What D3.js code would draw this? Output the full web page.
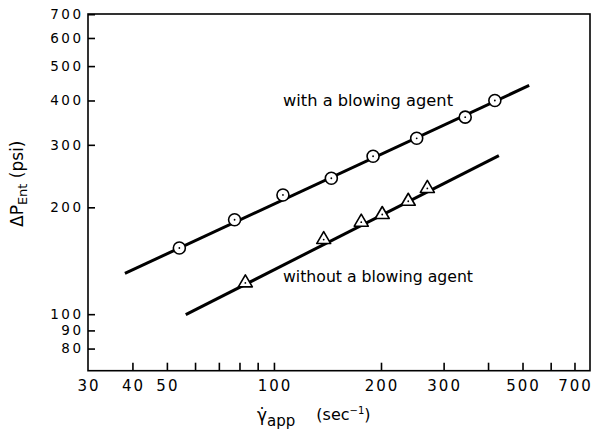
<!DOCTYPE html>
<html><head><meta charset="utf-8">
<script src="https://cdn.jsdelivr.net/npm/d3@7"></script>
<style>
body{margin:0;background:#fff;}
svg text{font-family:"DejaVu Sans",sans-serif;fill:#000;}
</style></head>
<body><svg id="c" width="597" height="436"></svg>
<script>
// Data
const withX = [54.2, 77.5, 106, 145, 190, 252, 345, 418];
const withY = [153.6, 184.5, 216.7, 241.5, 278.6, 313, 359, 400];
const withoutX = [83.1, 138, 176, 201.6, 238.6, 270];
const withoutY = [122.9, 162.8, 182.2, 191.5, 208.7, 226.8];
const withLineX = [38.1, 522];
const withLineY = [130.3, 441];
const withoutLineX = [56.5, 429];
const withoutLineY = [99.7, 279.7];
const xTicks = [40, 50, 60, 70, 80, 90, 100, 200, 300, 400, 500, 600, 700];
const xTickLabels = [30, 40, 50, 100, 200, 300, 500, 700];
const yTicks = [80, 90, 100, 200, 300, 400, 500, 600, 700];
const yTickLabels = [80, 90, 100, 200, 300, 400, 500, 600, 700];

const svg = d3.select("#c");
const L = 88, R = 590, T = 14, B = 370.7;
const x = d3.scaleLog().domain([30, 774]).range([L, R]);
const y = d3.scaleLog().domain([69.3, 701]).range([B, T]);

// frame
svg.append("rect").attr("x", L).attr("y", T).attr("width", R - L).attr("height", B - T)
  .attr("fill", "none").attr("stroke", "#000").attr("stroke-width", 1.6);

// x axis ticks (inward)
const xAxis = d3.axisBottom(x).tickValues(xTicks).tickSize(-8).tickFormat("");
const gx = svg.append("g").attr("transform", `translate(0,${B})`).call(xAxis);
gx.select(".domain").remove();
gx.selectAll("line").attr("stroke", "#000").attr("stroke-width", 1.6);
svg.append("g").selectAll("text").data(xTickLabels).join("text")
  .attr("x", d => x(d)).attr("y", 391)
  .attr("text-anchor", "middle").attr("font-size", 15).attr("letter-spacing", 2)
  .attr("dx", 1)
  .text(d => d);

// y axis ticks (inward)
const yAxis = d3.axisLeft(y).tickValues(yTicks).tickSize(-7).tickFormat("");
const gy = svg.append("g").attr("transform", `translate(${L},0)`).call(yAxis);
gy.select(".domain").remove();
gy.selectAll("line").attr("stroke", "#000").attr("stroke-width", 1.6);
svg.append("g").selectAll("text").data(yTickLabels).join("text")
  .attr("x", 83.5).attr("y", d => y(d)).attr("dy", "0.36em")
  .attr("text-anchor", "end").attr("font-size", 13.5).attr("letter-spacing", 2.5)
  .text(d => d);

// fit lines
const line = d3.line().x(d => x(d[0])).y(d => y(d[1]));
svg.append("path").datum(d3.zip(withLineX, withLineY)).attr("d", line)
  .attr("stroke", "#000").attr("stroke-width", 3).attr("fill", "none");
svg.append("path").datum(d3.zip(withoutLineX, withoutLineY)).attr("d", line)
  .attr("stroke", "#000").attr("stroke-width", 3).attr("fill", "none");

// circle markers
const cg = svg.append("g").selectAll("g").data(d3.zip(withX, withY)).join("g")
  .attr("transform", d => `translate(${x(d[0])},${y(d[1])})`);
cg.append("circle").attr("r", 6).attr("fill", "#fff").attr("stroke", "#000").attr("stroke-width", 1.6);
cg.append("circle").attr("r", 0.9).attr("fill", "#000");

// triangle markers
const tg = svg.append("g").selectAll("g").data(d3.zip(withoutX, withoutY)).join("g")
  .attr("transform", d => `translate(${x(d[0])},${y(d[1])})`);
tg.append("path").attr("d", "M0,-7.5 L7,4.5 L-7,4.5 Z")
  .attr("fill", "#fff").attr("stroke", "#000").attr("stroke-width", 1.6).attr("stroke-linejoin", "round");
tg.append("circle").attr("cy", 0.5).attr("r", 0.9).attr("fill", "#000");

// annotations
svg.append("text").attr("x", 283).attr("y", 106).attr("font-size", 15)
  .attr("textLength", 170).attr("lengthAdjust", "spacingAndGlyphs").text("with a blowing agent");
svg.append("text").attr("x", 283).attr("y", 282).attr("font-size", 15)
  .attr("textLength", 190).attr("lengthAdjust", "spacingAndGlyphs").text("without a blowing agent");

// y label
const yl = svg.append("text").attr("transform", "translate(23,227) rotate(-90)")
  .attr("font-size", 17);
yl.append("tspan").text("ΔP");
yl.append("tspan").attr("font-size", 13).attr("dy", 4).text("Ent");
yl.append("tspan").attr("dy", -4).attr("font-size", 17).text(" (psi)");

// x label
const xl = svg.append("text").attr("x", 257).attr("y", 421).attr("font-size", 17);
xl.append("tspan").text("γ̇");
xl.append("tspan").attr("font-size", 15).attr("dy", 5).text("app");
xl.append("tspan").attr("font-size", 16).attr("dy", -6).attr("dx", 21).text("(sec");
xl.append("tspan").attr("font-size", 10).attr("dy", -6).text("−1");
xl.append("tspan").attr("font-size", 16).attr("dy", 6).text(")");
</script></body></html>
